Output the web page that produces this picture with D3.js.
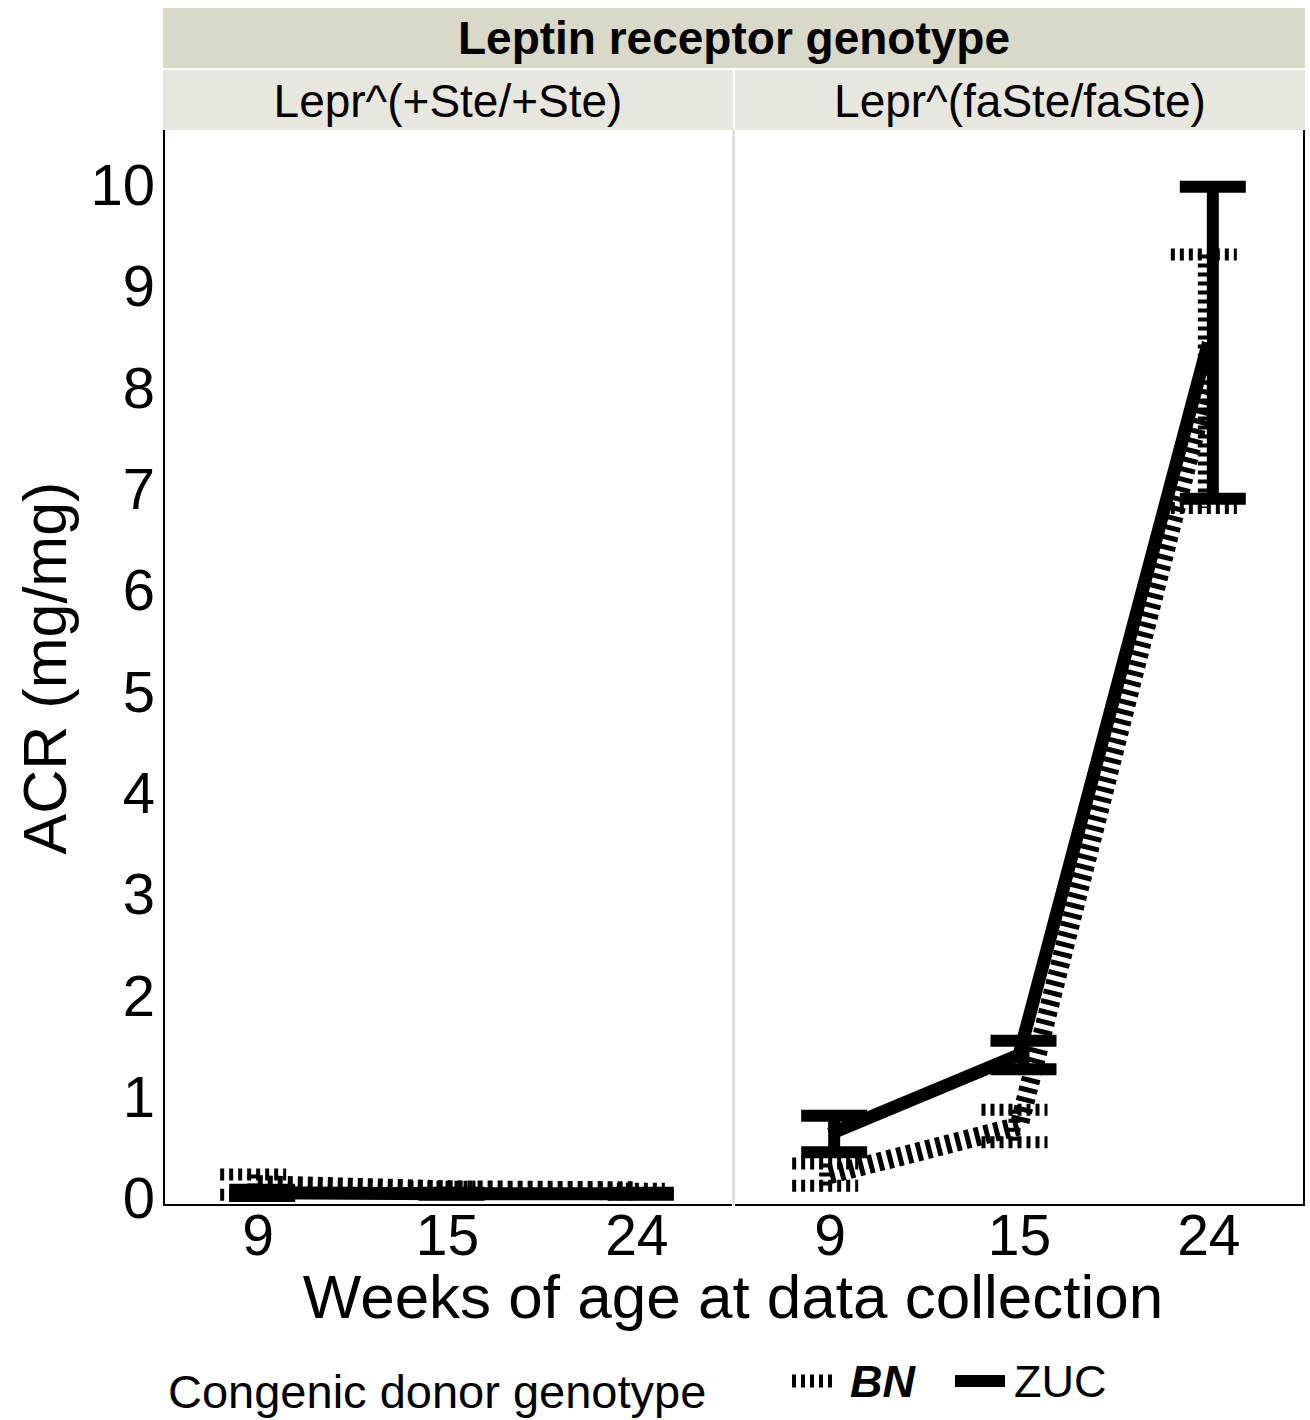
<!DOCTYPE html>
<html><head><meta charset="utf-8">
<script src="https://cdn.jsdelivr.net/npm/d3@7"></script>
<style>body{margin:0;background:#fff}svg{display:block}</style>
</head><body>
<script>
// ---- data ----
const weeks = ["9", "15", "24"];
const panelLabels = ["Lepr^(+Ste/+Ste)", "Lepr^(faSte/faSte)"];
const stripTitle = "Leptin receptor genotype";
const groups = ["BN", "ZUC"];
const yTicks = [0,1,2,3,4,5,6,7,8,9,10];
// panel 1: Lepr^(+Ste/+Ste)
const bnMeanWT = [0.12, 0.07, 0.06];
const bnSeWT   = [0.10, 0.03, 0.02];
const zucMeanWT = [0.04, 0.03, 0.03];
const zucSeWT   = [0.03, 0.01, 0.01];
// panel 2: Lepr^(faSte/faSte)
const bnMeanFA = [0.22, 0.70, 8.05];
const bnSeFA   = [0.11, 0.16, 1.25];
const zucMeanFA = [0.62, 1.40, 8.43];
const zucSeFA   = [0.18, 0.14, 1.54];

const W = 1310, H = 1420;
const FONT = "'Liberation Sans', Arial, Helvetica, sans-serif";
const svg = d3.select("body").append("svg").attr("width", W).attr("height", H);

const plotTop = 130, plotBottom = 1205;
const panelX = [[163, 731], [735, 1303]];
const y = d3.scaleLinear().domain([-0.08, 10.53]).range([plotBottom, plotTop]);

const panelData = [
  {BN: {m: bnMeanWT, s: bnSeWT}, ZUC: {m: zucMeanWT, s: zucSeWT}},
  {BN: {m: bnMeanFA, s: bnSeFA}, ZUC: {m: zucMeanFA, s: zucSeFA}}
];
const barDodge = {BN: -4.5, ZUC: 4.5};
const lineDodge = {BN: 0, ZUC: 0};
const barDash = {BN: "4,5", ZUC: null};
const lineDash = {BN: "5,5", ZUC: null};
const lineW = {BN: 19, ZUC: 13};

// strips
svg.append("rect").attr("x", 163).attr("y", 8).attr("width", 1305-163).attr("height", 60).attr("fill", "#d9d8c9");
svg.append("text").attr("x", (163+1305)/2).attr("y", 38).attr("text-anchor", "middle")
  .attr("dominant-baseline", "central").attr("font-family", FONT).attr("font-weight", "bold")
  .attr("font-size", 46).text(stripTitle);
panelX.forEach((px, i) => {
  const x0 = i === 0 ? 163 : 735, x1 = i === 0 ? 733 : 1305;
  svg.append("rect").attr("x", x0).attr("y", 70).attr("width", x1 - x0).attr("height", 60).attr("fill", "#e7e7df");
  svg.append("text").attr("x", (x0 + x1)/2).attr("y", 101).attr("text-anchor", "middle")
    .attr("dominant-baseline", "central").attr("font-family", FONT).attr("font-size", 46)
    .text(panelLabels[i]);
});

// separators and axes
svg.append("line").attr("x1", 733.5).attr("x2", 733.5).attr("y1", plotTop).attr("y2", plotBottom)
  .attr("stroke", "#d4d4d4").attr("stroke-width", 2);
svg.append("line").attr("x1", 164).attr("x2", 164).attr("y1", plotTop).attr("y2", plotBottom + 1)
  .attr("stroke", "#000").attr("stroke-width", 2);
svg.append("line").attr("x1", 1304).attr("x2", 1304).attr("y1", plotTop).attr("y2", plotBottom + 1)
  .attr("stroke", "#000").attr("stroke-width", 2);
svg.append("line").attr("x1", 163).attr("x2", 732).attr("y1", plotBottom).attr("y2", plotBottom)
  .attr("stroke", "#000").attr("stroke-width", 2);
svg.append("line").attr("x1", 735).attr("x2", 1305).attr("y1", plotBottom).attr("y2", plotBottom)
  .attr("stroke", "#000").attr("stroke-width", 2);

// y axis ticks
const yAxis = d3.axisLeft(y).tickValues(yTicks).tickSize(0).tickPadding(9).tickFormat(d3.format("d"));
const ga = svg.append("g").attr("transform", "translate(164,0)").call(yAxis);
ga.select(".domain").remove();
ga.selectAll("text").attr("font-family", FONT).attr("font-size", 58).attr("fill", "#000").attr("dy", "0.36em");

// panels
panelX.forEach((px, i) => {
  const x = d3.scalePoint().domain(weeks).range(px).padding(0.5);
  const gx = svg.append("g").attr("transform", `translate(0,${plotBottom})`)
    .call(d3.axisBottom(x).tickSize(0).tickPadding(10));
  gx.select(".domain").remove();
  gx.selectAll("text").attr("font-family", FONT).attr("font-size", 57).attr("fill", "#000").attr("dy", "0.71em");

  const g = svg.append("g");
  const capHalf = 33;
  groups.forEach(grp => {
    const d = panelData[i][grp];
    weeks.forEach((w, k) => {
      const cx = x(w) + barDodge[grp];
      const lo = y(d.m[k] - d.s[k]), hi = y(d.m[k] + d.s[k]);
      [[cx, cx, hi, lo], [cx - capHalf, cx + capHalf, hi, hi], [cx - capHalf, cx + capHalf, lo, lo]]
        .forEach(([xa, xb, ya, yb]) => {
          g.append("line").attr("x1", xa).attr("x2", xb).attr("y1", ya).attr("y2", yb)
            .attr("stroke", "#000").attr("stroke-width", 12)
            .attr("stroke-dasharray", barDash[grp]).attr("stroke-linecap", "butt");
        });
    });
  });
  groups.forEach(grp => {
    const d = panelData[i][grp];
    const line = d3.line().x((w) => x(w) + lineDodge[grp]).y((w, k) => y(d.m[k]));
    g.append("path").attr("d", line(weeks)).attr("fill", "none").attr("stroke", "#000")
      .attr("stroke-width", lineW[grp]).attr("stroke-dasharray", lineDash[grp])
      .attr("stroke-linejoin", "round").attr("stroke-linecap", "butt");
  });
});

// axis titles
svg.append("text").attr("x", 733).attr("y", 1318).attr("text-anchor", "middle")
  .attr("font-family", FONT).attr("font-size", 62).text("Weeks of age at data collection");
svg.append("text").attr("transform", "translate(66,668) rotate(-90)").attr("text-anchor", "middle")
  .attr("font-family", FONT).attr("font-size", 61).text("ACR (mg/mg)");

// legend
svg.append("text").attr("x", 168).attr("y", 1408).attr("font-family", FONT).attr("font-size", 47)
  .text("Congenic donor genotype");
svg.append("line").attr("x1", 792).attr("x2", 837).attr("y1", 1381).attr("y2", 1381)
  .attr("stroke", "#000").attr("stroke-width", 13).attr("stroke-dasharray", "4,5");
svg.append("text").attr("x", 850).attr("y", 1397).attr("font-family", FONT).attr("font-size", 45)
  .attr("font-weight", "bold").attr("font-style", "italic").text(groups[0]);
svg.append("line").attr("x1", 955).attr("x2", 1005).attr("y1", 1381).attr("y2", 1381)
  .attr("stroke", "#000").attr("stroke-width", 12);
svg.append("text").attr("x", 1014).attr("y", 1397).attr("font-family", FONT).attr("font-size", 45)
  .text(groups[1]);
</script>
</body></html>
